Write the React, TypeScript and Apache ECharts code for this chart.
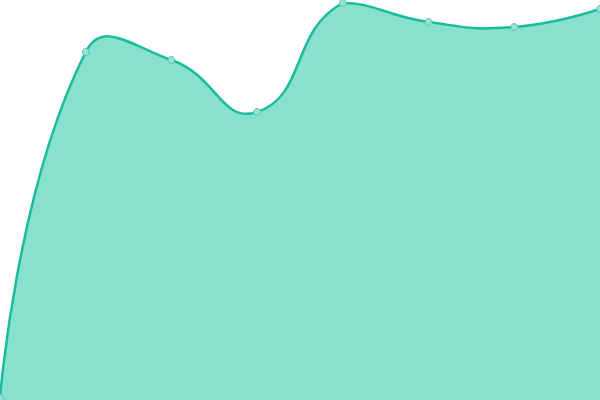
import React, { useEffect, useRef } from 'react';
import * as echarts from 'echarts';

const categories = ['A', 'B', 'C', 'D', 'E', 'F', 'G', 'H'];
const values = [2, 348, 340, 288, 397, 378, 373, 391];

const SMOOTH = 0.5;

// older-style smoothing: tangent from prev to next, control points kept inside the points' box
function smoothPath(pts: number[][]): string {
  const xs = pts.map((p) => p[0]);
  const ys = pts.map((p) => p[1]);
  const minX = Math.min(...xs), maxX = Math.max(...xs);
  const minY = Math.min(...ys), maxY = Math.max(...ys);
  const clamp = (p: number[]) => [
    Math.min(maxX, Math.max(minX, p[0])),
    Math.min(maxY, Math.max(minY, p[1])),
  ];

  let d = `M${pts[0][0]},${pts[0][1]}`;
  let cp0 = pts[0].slice();
  for (let i = 1; i < pts.length; i++) {
    const p = pts[i];
    const prev = pts[i - 1];
    const next = pts[i + 1];
    let nextCp0 = p.slice();
    let v = [0, 0];
    let ratio = 0.5;
    if (next) {
      v = [next[0] - prev[0], next[1] - prev[1]];
      const lenPrev = Math.hypot(p[0] - prev[0], p[1] - prev[1]);
      const lenNext = Math.hypot(next[0] - p[0], next[1] - p[1]);
      ratio = lenNext / (lenNext + lenPrev);
      nextCp0 = [p[0] - v[0] * SMOOTH * (1 - ratio), p[1] - v[1] * SMOOTH * (1 - ratio)];
    }
    const a = clamp(cp0);
    const b = clamp(nextCp0);
    d += ` C${a[0]},${a[1]} ${b[0]},${b[1]} ${p[0]},${p[1]}`;
    cp0 = [p[0] + v[0] * SMOOTH * ratio, p[1] + v[1] * SMOOTH * ratio];
  }
  return d;
}

const App: React.FC = () => {
  const chartRef = useRef<HTMLDivElement | null>(null);

  useEffect(() => {
    if (!chartRef.current) return;
    const chart = echarts.init(chartRef.current, undefined, { renderer: 'svg' });

    chart.setOption({
      animation: false,
      grid: { left: 0, right: 0, top: 0, bottom: 0 },
      xAxis: {
        type: 'category',
        data: categories,
        boundaryGap: false,
        show: false,
      },
      yAxis: {
        type: 'value',
        min: 0,
        max: 400,
        show: false,
      },
      series: [
        {
          type: 'custom',
          data: [[0, 0]],
          z: 2,
          silent: true,
          renderItem: (params: any, api: any) => {
            const pts = values.map((v, i) => api.coord([i, v]));
            const base = api.coord([0, 0])[1];
            const line = smoothPath(pts);
            const last = pts[pts.length - 1];
            const area = `${line} L${last[0]},${base} L${pts[0][0]},${base} Z`;
            return {
              type: 'group',
              children: [
                {
                  type: 'path',
                  shape: { pathData: area },
                  style: { fill: '#88e0cf', stroke: 'none' },
                },
                {
                  type: 'path',
                  shape: { pathData: line },
                  style: { fill: 'none', stroke: '#1abc9c', lineWidth: 2.5 },
                },
              ],
            };
          },
        },
        {
          type: 'line',
          data: values,
          z: 3,
          symbol: 'circle',
          symbolSize: 7,
          lineStyle: { opacity: 0 },
          itemStyle: { color: '#96e3d4', borderColor: '#52c9b0', borderWidth: 1 },
        },
      ],
    });

    return () => {
      chart.dispose();
    };
  }, []);

  return (
    <div
      ref={chartRef}
      style={{ position: 'absolute', left: 0, top: 0, width: '600px', height: '400px' }}
    />
  );
};

export default App;
